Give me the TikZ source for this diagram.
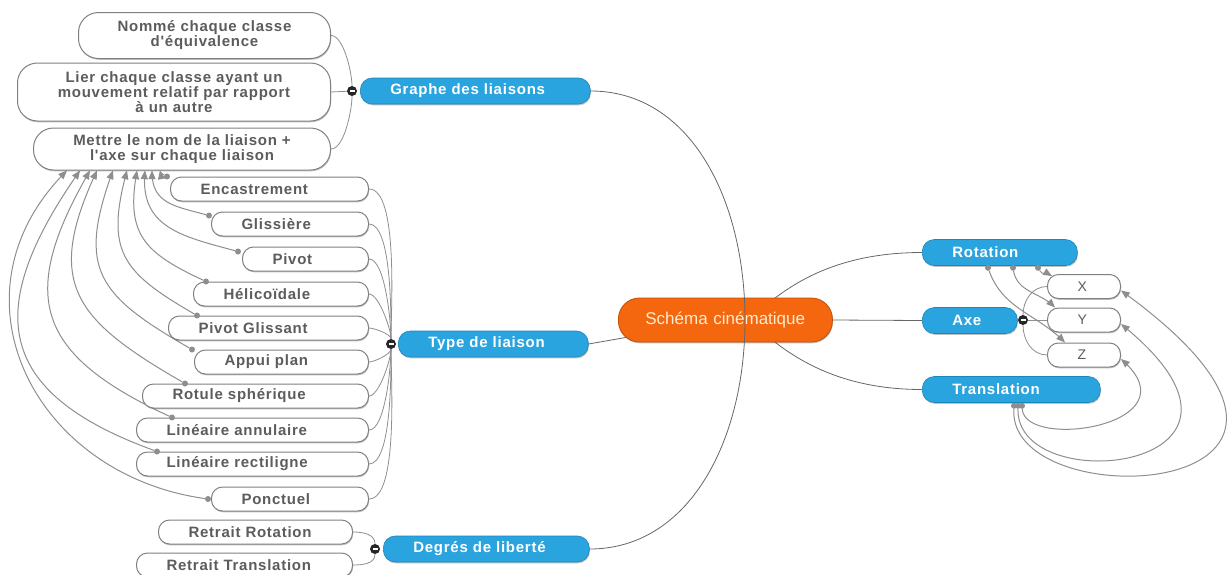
\documentclass[tikz,border=0pt]{standalone}
\usepackage{fontspec}
\setmainfont{Liberation Sans}
\newfontfamily\boxfont[LetterSpace=5]{Liberation Sans}
\usetikzlibrary{arrows,shadows,backgrounds}
\definecolor{mapblue}{HTML}{29A4DE}
\definecolor{mapblueb}{HTML}{1B86BC}
\definecolor{maporange}{HTML}{F5670F}
\definecolor{maporangeb}{HTML}{C24F08}
\definecolor{boxgrey}{HTML}{5C5C5C}
\definecolor{linegrey}{HTML}{8E8E8E}
\definecolor{paletext}{HTML}{FFEBCF}
\newcommand{\boxtext}{\boxfont\bfseries\fontsize{15}{15}\selectfont}
\tikzset{
  topicshadow/.style={drop shadow={shadow xshift=0.6pt, shadow yshift=-1.3pt, opacity=0.35, fill=black!70}},
  subtopic/.style={rectangle, rounded corners=11pt, draw=black!50, fill=white, line width=1pt,
    text=boxgrey, font=\boxtext, inner xsep=30pt, align=left, minimum height=24pt, topicshadow},
  note/.style={subtopic, rounded corners=20pt, align=center},
  axis/.style={subtopic, font=\fontsize{14}{15}\selectfont},
  maintopic/.style={rectangle, rounded corners=12pt, draw=mapblueb, fill=mapblue, line width=0.6pt,
    text=white, font=\boxtext, inner xsep=30pt, align=left, minimum height=26pt, topicshadow},
  central/.style={rectangle, rounded corners=21pt, draw=maporangeb, fill=maporange, line width=0.8pt,
    text=paletext, font=\fontsize{17}{18}\selectfont, inner xsep=27pt, text width=160pt, align=left,
    minimum height=44pt, topicshadow},
  fold/.style={circle, fill=black!85, minimum size=10pt, inner sep=0pt},
  grip/.style={circle, fill=linegrey, minimum size=6pt, inner sep=0pt},
  branch/.style={draw=linegrey, line width=0.8pt},
  mainbranch/.style={draw=black!60, line width=0.8pt},
  relation/.style={branch, line width=1pt, -triangle 45}
}
\begin{document}
\begin{tikzpicture}[x=1pt, y=1pt,
every node/.style={inner ysep=0pt}]
\useasboundingbox (0,-574) rectangle (1229,0);

%central topic
\node[central, anchor=west] (schema) at (618,-320) {Schéma cinématique};
\coordinate (hubl) at (745,-320);
\coordinate (hubr) at (750,-320);

%main topics
\node[maintopic, text width=170pt, anchor=west] (graphe) at (360,-91) {Graphe des liaisons};
\node[maintopic, text width=130pt, anchor=west] (typel) at (398,-344) {Type de liaison};
\node[maintopic, text width=146pt, anchor=west] (degres) at (383,-549) {Degrés de liberté};
\node[maintopic, text width=95pt, anchor=west] (rotation) at (922,-252.5) {Rotation};
\node[maintopic, text width=35pt, anchor=west] (axe) at (922,-320.5) {Axe};
\node[maintopic, text width=118pt, anchor=west] (translation) at (922,-389.5) {Translation};

%graphe des liaisons
\node[note, text width=192pt, minimum height=46pt, anchor=west] (nomme) at (78,-35.5) {Nommé chaque classe\\d'équivalence};
\node[note, text width=253pt, minimum height=58pt, anchor=west] (lier) at (17,-92) {Lier chaque classe ayant un\\mouvement relatif par rapport\\à un autre};
\node[note, text width=237pt, minimum height=42pt, anchor=west] (mettre) at (33,-149) {Mettre le nom de la liaison +\\l'axe sur chaque liaison};

%type de liaison, all boxes end at x=368
\foreach \n/\l/\y/\t in {enc/170/189/Encastrement, gli/211/224/Glissière, piv/242/259/Pivot,
  hel/193/294/Hélicoïdale, pgl/168/328/Pivot Glissant, app/194/362/Appui plan,
  rotule/142/396/Rotule sphérique, lan/136/430/Linéaire annulaire,
  lre/136/464/Linéaire rectiligne, pon/211/499/Ponctuel}{
  \pgfmathsetmacro{\w}{308-\l}
  \node[subtopic, text width=\w pt, anchor=west] (\n) at (\l,-\y) {\t};
}

%degres de liberte
\node[subtopic, text width=134pt, anchor=west] (rr) at (158,-532) {Retrait Rotation};
\node[subtopic, text width=156pt, anchor=west] (rt) at (136,-565) {Retrait Translation};

%axes
\foreach \n/\y/\t in {ax/286.5/X, ay/320/Y, az/355/Z}
  \node[axis, text width=13pt, anchor=west] (\n) at (1047,-\y) {\t};

%fold buttons
\node[fold] (gfold) at (352,-91) {};
\node[fold] (tfold) at (391,-344) {};
\node[fold] (dfold) at (375,-549) {};
\node[fold] (afold) at (1023,-320) {};

%grips for the relations
\foreach \n/\anc/\dx/\dy in {enc/north west/-3/0, gli/north west/-2/-4, piv/north west/-4/-5,
  hel/north west/13/0, pgl/north west/29/0, app/north west/-2/0, rotule/north west/43/0,
  lan/north west/36/0, lre/north west/21/0, pon/west/-3/0}
  \node[grip] (\n dot) at ([xshift=\dx pt, yshift=\dy pt]\n.\anc) {};
\foreach \k/\dx in {1/66, 2/91, 3/116}
  \node[grip] (rg\k) at ([xshift=\dx pt, yshift=-2pt]rotation.south west) {};
\foreach \k/\dx in {1/92, 2/96, 3/100}
  \node[grip] (tg\k) at ([xshift=\dx pt, yshift=-3pt]translation.south west) {};

\begin{scope}[on background layer]
%branches
\draw[mainbranch] (typel.east) -- (schema.center);
\draw[mainbranch] (schema.east) -- (axe.west);
\draw[mainbranch] (rotation.west) .. controls +(-80,0) and +(40,40) .. (hubr);
\draw[mainbranch] (translation.west) .. controls +(-80,0) and +(40,-40) .. (hubr);
\draw[branch] (nomme.east) to[out=0, in=90, looseness=0.6] (gfold);
\draw[branch] (lier.east) -- (gfold);
\draw[branch] (mettre.east) to[out=0, in=-90, looseness=0.6] (gfold);
\foreach \n in {enc,gli,piv,hel,pgl}
  \draw[branch] (\n.east) to[out=0, in=90, looseness=0.5] (tfold);
\foreach \n in {app,rotule,lan,lre,pon}
  \draw[branch] (\n.east) to[out=0, in=-90, looseness=0.5] (tfold);
\draw[branch] (rr.east) to[out=0, in=90] (dfold);
\draw[branch] (rt.east) to[out=0, in=-90] (dfold);
\draw[branch] (axe.east) -- (afold);
\draw[branch] (afold) -- (ay.west);
\draw[branch] (afold) to[out=90, in=180] (ax.west);
\draw[branch] (afold) to[out=-90, in=180] (az.west);

%relations to mettre le nom
\foreach \n/\tip/\o/\i/\lo in {enc/127/150/-80/1, gli/119/165/-90/1.2, piv/112/165/-95/1.2,
  hel/104/155/-100/1.3, pgl/94/150/-105/1.35, app/80/150/-110/1.4, rotule/64/150/-115/1.4,
  lan/57/155/-120/1.45, lre/47/160/-125/1.5, pon/34/172/-135/1.25}
  \draw[relation] (\n dot) to[out=\o, in=\i, looseness=\lo] ([xshift=\tip pt]mettre.south west);

%relations between rotation, translation and the axes
\draw[relation] (rg3) to[out=-60, in=150] ([xshift=5pt, yshift=-2pt]ax.north west);
\draw[relation] (rg2) to[out=-80, in=135] ([xshift=8pt]ay.north west);
\draw[relation] (rg1) to[out=-70, in=135] ([xshift=18pt]az.north west);
\draw[relation] (tg3) .. controls +(3,-45) and +(75,-66) .. ([yshift=-4pt]az.east);
\draw[relation] (tg2) .. controls +(-2,-95) and +(180,-146) .. ([yshift=-4pt]ay.east);
\draw[relation] (tg1) .. controls +(-7,-115) and +(290,-210) .. ([yshift=-4pt]ax.east);
\end{scope}

%the branch that runs across the central topic
\draw[mainbranch] (graphe.east) .. controls +(100,0) and +(0,120) .. (hubl)
  .. controls +(0,-120) and +(100,0) .. (degres.east);

%minus signs
\foreach \f in {gfold,tfold,dfold,afold}
  \draw[white, line width=1.5pt] ([xshift=-2.5pt]\f.center) -- ([xshift=2.5pt]\f.center);
\end{tikzpicture}
\end{document}
